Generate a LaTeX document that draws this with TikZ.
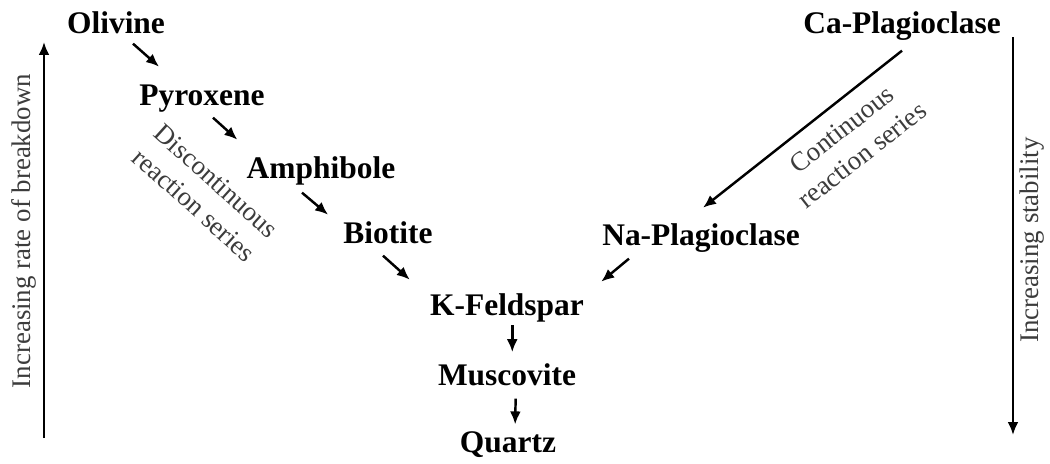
\documentclass[tikz,border=0pt]{standalone}
\usepackage{fontspec}
\setmainfont{Liberation Serif}
\usetikzlibrary{arrows.meta}
\definecolor{txtgray}{RGB}{60,60,60}

\begin{document}
\begin{tikzpicture}[x=0.02cm, y=-0.02cm,
  mineral/.style={inner sep=0pt, anchor=base, font=\fontsize{17.9}{21}\selectfont\bfseries,
    text height=12.5pt, text depth=3.6pt},
  note/.style={inner sep=0pt, align=center, text=txtgray,
    font=\fontsize{15.3}{18.7}\selectfont},
  arr/.style={-{Latex[length=2.6mm, width=2.2mm]}, line width=1.4pt}]
\useasboundingbox (0,0) rectangle (1050,463);
% Discontinuous series
\node[mineral] (olivine) at (116,33) {Olivine};
\node[mineral] (pyroxene) at (202,105) {Pyroxene};
\node[mineral] (amphibole) at (321,178) {Amphibole};
\node[mineral] (biotite) at (388,243) {Biotite};
\draw[arr] ([shift={(17,4)}]olivine.south) -- ([shift={(20,-16)}]pyroxene.north west);
\draw[arr] ([shift={(11,6)}]pyroxene.south) -- ([shift={(-9,-16)}]amphibole.north west);
\draw[arr] ([shift={(-19,8)}]amphibole.south) -- ([shift={(-15,-6)}]biotite.north west);
\node[note, rotate=-42] (discont) at (205,193) {Discontinuous\\reaction series};
% Continuous series
\node[mineral] (caplag) at (902,33) {Ca-Plagioclase};
\node[mineral] (naplag) at (701,245) {Na-Plagioclase};
\draw[arr] ([shift={(0,11)}]caplag.south) -- ([shift={(2,-15)}]naplag.north);
\node[note, rotate=38] (cont) at (852,142) {Continuous\\reaction series};
% Bottom
\node[mineral] (kfeld) at (507,315) {K-Feldspar};
\node[mineral] (muscovite) at (507,385) {Muscovite};
\node[mineral] (quartz) at (508,452) {Quartz};
\draw[arr] ([shift={(-5,6)}]biotite.south) -- ([shift={(-20,-13)}]kfeld.north west);
\draw[arr] ([shift={(27,7)}]naplag.south west) -- ([shift={(17,-11)}]kfeld.north east);
\draw[arr, shorten <=2, shorten >=6] ([xshift=3]kfeld.south) -- ([xshift=3]muscovite.north);
\draw[arr, shorten <=4, shorten >=3] ([xshift=5]muscovite.south) -- ([xshift=4]quartz.north);
% Left axis
\coordinate (lbot) at (44,438);
\coordinate (ltop) at (44,42);
\draw[arr] (lbot) -- (ltop);
\node[note, rotate=90] (breakdown) at (24,231) {Increasing rate of breakdown};
% Right axis
\coordinate (rtop) at (1013,37);
\coordinate (rbot) at (1013,435);
\draw[arr] (rtop) -- (rbot);
\node[note, rotate=90] (stability) at (1032,240) {Increasing stability};
\end{tikzpicture}
\end{document}
